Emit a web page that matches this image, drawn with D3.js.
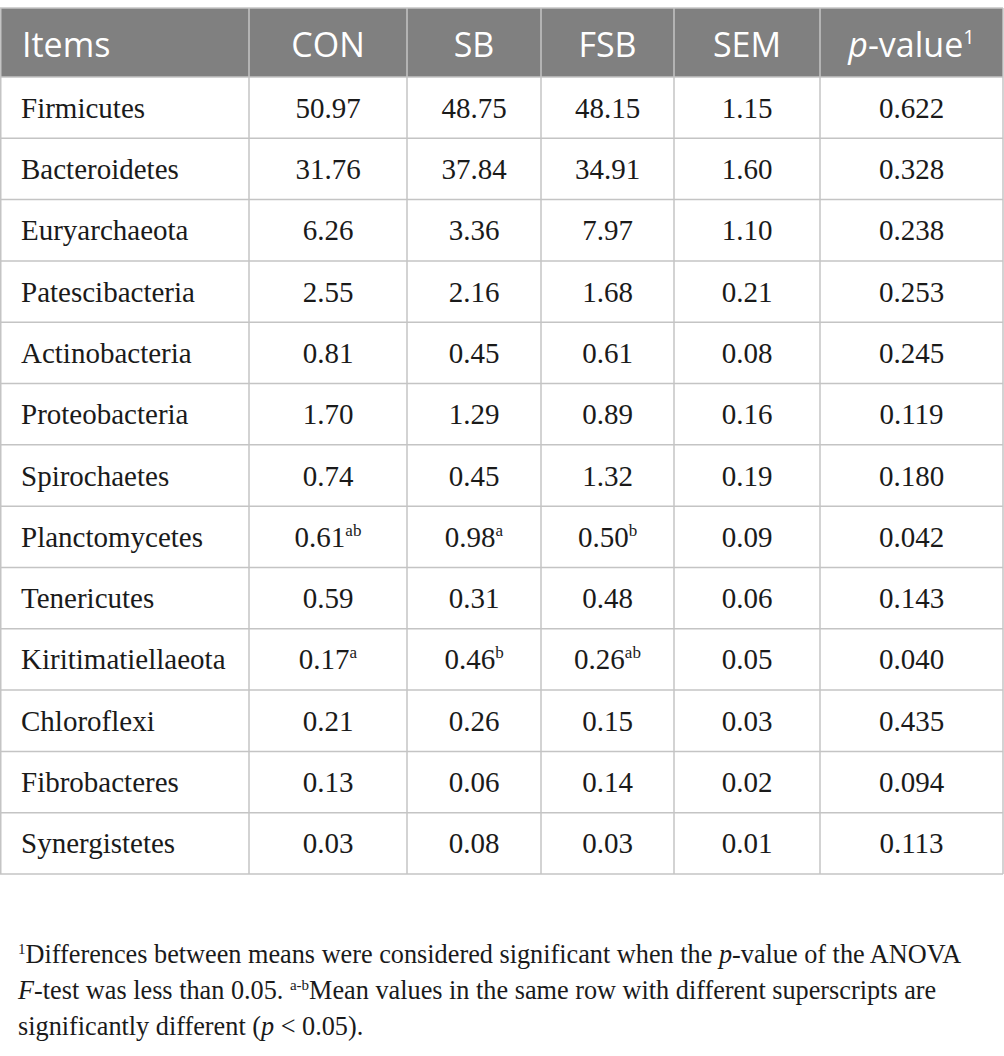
<!DOCTYPE html>
<html><head><meta charset="utf-8">
<script src="https://cdn.jsdelivr.net/npm/d3@7/dist/d3.min.js"></script>
<style>
html,body{margin:0;padding:0;background:#fff;}
svg{display:block;}
</style></head>
<body>
<script>
// ---- data ----
const headers = ["Items", "CON", "SB", "FSB", "SEM", "p-value"];
const items = ["Firmicutes","Bacteroidetes","Euryarchaeota","Patescibacteria","Actinobacteria","Proteobacteria","Spirochaetes","Planctomycetes","Tenericutes","Kiritimatiellaeota","Chloroflexi","Fibrobacteres","Synergistetes"];
const conVals = ["50.97","31.76","6.26","2.55","0.81","1.70","0.74","0.61","0.59","0.17","0.21","0.13","0.03"];
const sbVals  = ["48.75","37.84","3.36","2.16","0.45","1.29","0.45","0.98","0.31","0.46","0.26","0.06","0.08"];
const fsbVals = ["48.15","34.91","7.97","1.68","0.61","0.89","1.32","0.50","0.48","0.26","0.15","0.14","0.03"];
const semVals = ["1.15","1.60","1.10","0.21","0.08","0.16","0.19","0.09","0.06","0.05","0.03","0.02","0.01"];
const pVals   = ["0.622","0.328","0.238","0.253","0.245","0.119","0.180","0.042","0.143","0.040","0.435","0.094","0.113"];
const conSup = ["","","","","","","","ab","","a","","",""];
const sbSup  = ["","","","","","","","a","","b","","",""];
const fsbSup = ["","","","","","","","b","","ab","","",""];

// ---- layout ----
const W = 1004, H = 1056;
const colEdges = [0, 249, 407, 541, 674, 820, 1003];
const tableTop = 8, headerBottom = 77, tableBottom = 874;
const gridColor = "#c4c4c4";
const headerFill = "#808080";

const svg = d3.select("body").append("svg").attr("width", W).attr("height", H);

const y = d3.scaleBand().domain(d3.range(items.length)).range([headerBottom, tableBottom]).paddingInner(0);
const colCenter = i => (colEdges[i] + colEdges[i+1]) / 2;

// header background
svg.append("rect").attr("x", colEdges[0]).attr("y", tableTop)
  .attr("width", colEdges[6] - colEdges[0]).attr("height", headerBottom - tableTop)
  .attr("fill", headerFill);

// header text
const hg = svg.append("g").attr("font-family", "'Open Sans', 'Noto Sans', sans-serif")
  .attr("font-size", 34).attr("fill", "#fff");
headers.forEach((h, i) => {
  const t = hg.append("text").attr("y", 57);
  if (i === 0) { t.attr("x", 22).attr("text-anchor", "start").text(h); }
  else if (i === 5) {
    t.attr("x", colCenter(i)).attr("text-anchor", "middle");
    t.append("tspan").attr("font-style", "italic").text("p");
    t.append("tspan").text("-value");
    t.append("tspan").attr("font-size", 20).attr("dy", -13).text("1");
  } else {
    t.attr("x", colCenter(i)).attr("text-anchor", "middle").text(h);
  }
});

// body text
const bg = svg.append("g").attr("font-family", "'Liberation Serif', 'Times New Roman', serif")
  .attr("font-size", 29).attr("fill", "#1a1a1a");
const cols = [
  {vals: conVals, sup: conSup},
  {vals: sbVals, sup: sbSup},
  {vals: fsbVals, sup: fsbSup},
  {vals: semVals, sup: null},
  {vals: pVals, sup: null}
];
items.forEach((it, r) => {
  const by = y(r) + y.bandwidth() / 2 + 10;
  bg.append("text").attr("x", 21).attr("y", by).text(it);
  cols.forEach((c, ci) => {
    const t = bg.append("text").attr("x", colCenter(ci + 1)).attr("y", by).attr("text-anchor", "middle");
    t.append("tspan").text(c.vals[r]);
    if (c.sup && c.sup[r]) t.append("tspan").attr("font-size", 17).attr("dy", -11).text(c.sup[r]);
  });
});

// grid lines
const lg = svg.append("g").attr("stroke", gridColor).attr("stroke-width", 1.5).attr("fill", "none");
lg.append("line").attr("x1", 0).attr("x2", colEdges[6]).attr("y1", tableTop).attr("y2", tableTop);
d3.range(items.length + 1).forEach(r => {
  const yy = r < items.length ? y(r) : tableBottom;
  lg.append("line").attr("x1", 0).attr("x2", colEdges[6]).attr("y1", yy).attr("y2", yy);
});
colEdges.forEach((x, i) => {
  const xx = i === 0 ? 0.75 : x;
  lg.append("line").attr("x1", xx).attr("x2", xx).attr("y1", tableTop).attr("y2", tableBottom);
});

// footnotes
const fg = svg.append("g").attr("font-family", "'Liberation Serif', 'Times New Roman', serif")
  .attr("font-size", 25).attr("fill", "#1a1a1a");
const l1 = fg.append("text").attr("x", 18).attr("y", 963);
l1.append("tspan").attr("font-size", 15).attr("dy", -9).text("1");
l1.append("tspan").attr("dy", 9).text("Differences between means were considered significant when the ");
l1.append("tspan").attr("font-style", "italic").text("p");
l1.append("tspan").text("-value of the ANOVA");
const l2 = fg.append("text").attr("x", 18).attr("y", 999);
l2.append("tspan").attr("font-style", "italic").text("F");
l2.append("tspan").text("-test was less than 0.05. ");
l2.append("tspan").attr("font-size", 15).attr("dy", -9).text("a-b");
l2.append("tspan").attr("dy", 9).text("Mean values in the same row with different superscripts are");
const l3 = fg.append("text").attr("x", 18).attr("y", 1035);
l3.append("tspan").text("significantly different (");
l3.append("tspan").attr("font-style", "italic").text("p");
l3.append("tspan").text(" < 0.05).");
// fit footnote width to the reference line length
const len = l1.node().getComputedTextLength();
const target = 944;
fg.attr("font-size", 25 * target / len);
</script>
</body></html>
